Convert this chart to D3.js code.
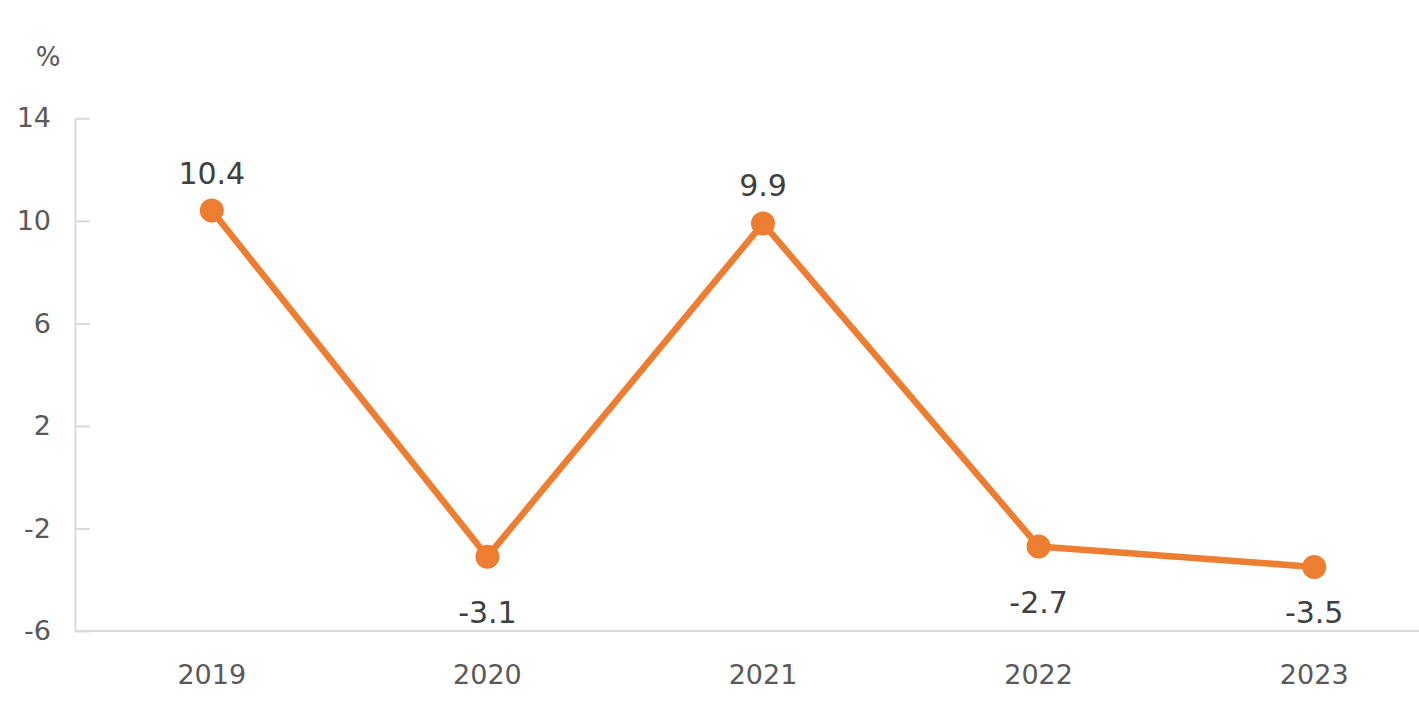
<!DOCTYPE html>
<html><head><meta charset="utf-8">
<script src="https://cdn.jsdelivr.net/npm/d3@7"></script>
<style>html,body{margin:0;padding:0;background:#fff;}svg{display:block;}</style>
</head><body>
<script>
const years = ["2019","2020","2021","2022","2023"];
const values = [10.4, -3.1, 9.9, -2.7, -3.5];
const yTicks = [14, 10, 6, 2, -2, -6];
const unitLabel = "%";

const W = 1419, H = 723;
const svg = d3.select("body").append("svg").attr("width", W).attr("height", H);
const font = "'DejaVu Sans', sans-serif";

const x = d3.scaleBand().domain(years).range([74, 1452]);
const y = d3.scaleLinear().domain([-6, 14]).range([631, 118.3]);
const cx = d => x(d) + x.bandwidth() / 2;

// y axis
const yAxis = svg.append("g").attr("transform", "translate(75,0)")
  .call(d3.axisLeft(y).tickValues(yTicks).tickFormat(d => String(d)).tickSizeInner(-15).tickSizeOuter(0));
yAxis.select(".domain").attr("stroke", "#d9d9d9").attr("stroke-width", 2);
yAxis.selectAll(".tick line").attr("stroke", "#d9d9d9").attr("stroke-width", 2);
yAxis.selectAll(".tick text").attr("fill", "#595959").attr("font-size", 27).attr("font-family", font)
  .attr("text-anchor", "end").attr("x", -24);

// x axis
const xAxis = svg.append("g").attr("transform", "translate(0,631)")
  .call(d3.axisBottom(x).tickSize(0).tickPadding(34));
xAxis.select(".domain").attr("stroke", "#d9d9d9").attr("stroke-width", 2).attr("d", "M75,0H1452");
xAxis.selectAll(".tick text").attr("fill", "#595959").attr("font-size", 27).attr("font-family", font);

svg.append("text").attr("x", 48).attr("y", 66).attr("text-anchor", "middle")
  .attr("fill", "#595959").attr("font-size", 26).attr("font-family", font).text(unitLabel);

const pts = years.map((yr, i) => ({yr, v: values[i]}));
svg.append("path").datum(pts)
  .attr("fill", "none").attr("stroke", "#ED7D31").attr("stroke-width", 6.5).attr("stroke-linejoin", "round")
  .attr("d", d3.line().x(d => cx(d.yr)).y(d => y(d.v)));
svg.selectAll("circle.pt").data(pts).join("circle")
  .attr("cx", d => cx(d.yr)).attr("cy", d => y(d.v)).attr("r", 12).attr("fill", "#ED7D31");

svg.selectAll("text.lbl").data(pts).join("text").attr("class", "lbl")
  .attr("x", d => cx(d.yr))
  .attr("y", (d, i) => i === 0 || i === 2 ? y(d.v) - 27 : Math.min(y(d.v) + 67, 623))
  .attr("text-anchor", "middle").attr("fill", "#404040").attr("font-size", 30).attr("font-family", font)
  .text(d => d.v.toFixed(1));
</script>
</body></html>
